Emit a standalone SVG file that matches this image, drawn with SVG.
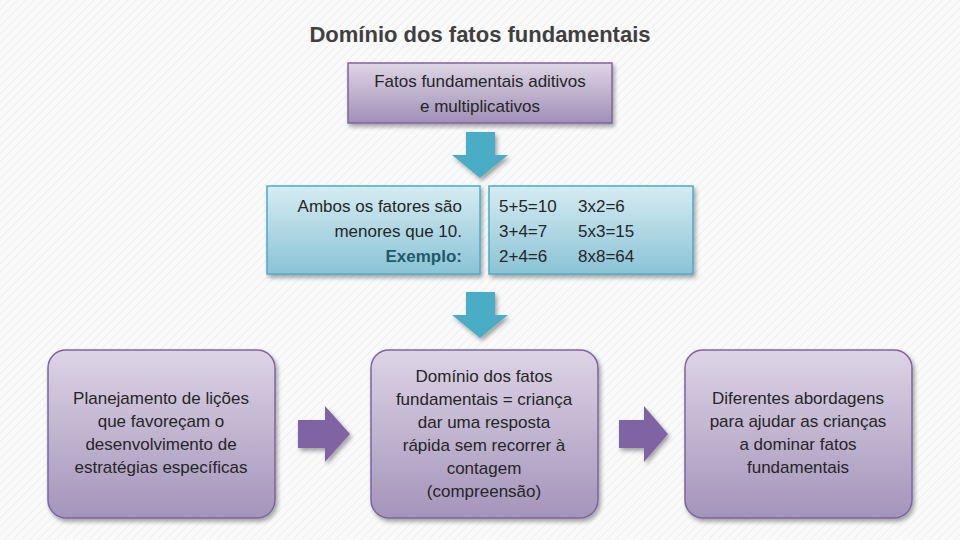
<svg xmlns="http://www.w3.org/2000/svg" width="960" height="540" viewBox="0 0 960 540">
<defs>
<linearGradient id="gp" x1="0" y1="0" x2="0" y2="1"><stop offset="0" stop-color="#ded6e6"/><stop offset="1" stop-color="#a08fb6"/></linearGradient>
<linearGradient id="gt" x1="0" y1="0" x2="0" y2="1"><stop offset="0" stop-color="#d6ecf2"/><stop offset="1" stop-color="#8ac3d5"/></linearGradient>
<linearGradient id="gb" x1="0" y1="0" x2="0" y2="1"><stop offset="0" stop-color="#ddd4e6"/><stop offset="1" stop-color="#a494ba"/></linearGradient>
<filter id="sh" x="-10%" y="-10%" width="125%" height="130%"><feDropShadow dx="2" dy="3" stdDeviation="2" flood-color="#000" flood-opacity="0.35"/></filter>
<pattern id="bg" width="6" height="6" patternUnits="userSpaceOnUse" patternTransform="rotate(45)"><rect width="6" height="6" fill="#fafafa"/><rect width="1" height="6" fill="#efefef"/></pattern>
</defs>
<style>
text{font-family:"Liberation Sans",Arial,sans-serif;font-size:17px;fill:#262626}
.pb{fill:url(#gp);stroke:#7e64a0;stroke-width:1.5;filter:url(#sh)}
.tb{fill:url(#gt);stroke:#4bacc6;stroke-width:1.5;filter:url(#sh)}
.bb{fill:url(#gb);stroke:#7e64a0;stroke-width:1.5;filter:url(#sh)}
.da{fill:#4bacc6;filter:url(#sh)}
.ra{fill:#8064a2;filter:url(#sh)}
.c{text-anchor:middle}
.r{text-anchor:end}
</style>
<rect width="960" height="540" fill="url(#bg)"/>
<text x="480" y="42" class="c" style="font-size:22px;font-weight:bold;fill:#404040">Domínio dos fatos fundamentais</text>
<g id="n1"><rect class="pb" x="348" y="63" width="264" height="60"/>
<text x="480" y="87" class="c">Fatos fundamentais aditivos</text><text x="480" y="112" class="c">e multiplicativos</text></g>
<g id="n2"><rect class="tb" x="267" y="186" width="213" height="88"/>
<text x="462" y="212" class="r">Ambos os fatores são</text><text x="462" y="237" class="r">menores que 10.</text><text x="462" y="262" class="r" style="font-weight:bold;fill:#215968">Exemplo:</text></g>
<g id="n3"><rect class="tb" x="489" y="186" width="204" height="88"/>
<text x="499" y="212">5+5=10</text><text x="578" y="212">3x2=6</text>
<text x="499" y="237">3+4=7</text><text x="578" y="237">5x3=15</text>
<text x="499" y="262">2+4=6</text><text x="578" y="262">8x8=64</text></g>
<g id="n4"><rect class="bb" x="48" y="350" width="227" height="168" rx="18"/>
<text x="161" y="404" class="c">Planejamento de lições</text><text x="161" y="427" class="c">que favoreçam o</text><text x="161" y="450" class="c">desenvolvimento de</text><text x="161" y="473" class="c">estratégias específicas</text></g>
<g id="n5"><rect class="bb" x="371" y="350" width="227" height="168" rx="18"/>
<text x="484" y="382" class="c">Domínio dos fatos</text><text x="484" y="405" class="c">fundamentais = criança</text><text x="484" y="428" class="c">dar uma resposta</text><text x="484" y="451" class="c">rápida sem recorrer à</text><text x="484" y="474" class="c">contagem</text><text x="484" y="497" class="c">(compreensão)</text></g>
<g id="n6"><rect class="bb" x="685" y="350" width="227" height="168" rx="18"/>
<text x="798" y="404" class="c">Diferentes abordagens</text><text x="798" y="427" class="c">para ajudar as crianças</text><text x="798" y="450" class="c">a dominar fatos</text><text x="798" y="473" class="c">fundamentais</text></g>
<g id="connectors">
<path class="da" d="M466 132H495V155H508L480 178L452 155H466Z"/>
<path class="da" d="M466 292H495V315H508L480 338L452 315H466Z"/>
<path class="ra" d="M298 420H325V406L350 434L325 462V448H298Z"/>
<path class="ra" d="M619 420H644V406L668 434L644 462V448H619Z"/>
</g>
</svg>
